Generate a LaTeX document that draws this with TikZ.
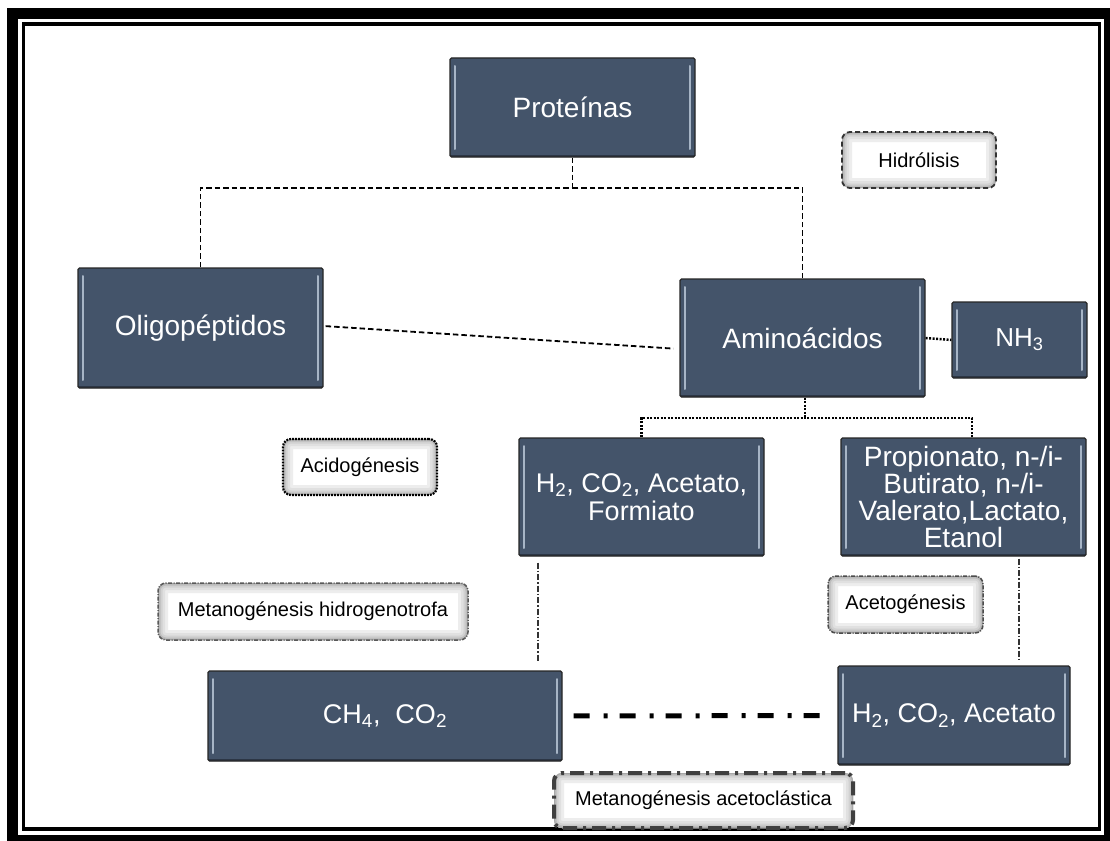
\documentclass[tikz,border=0pt]{standalone}
\usepackage{fontspec}
\setmainfont{Liberation Sans}
\definecolor{boxc}{HTML}{44546A}
\definecolor{stripec}{HTML}{A7B5C6}
\begin{document}
\begin{tikzpicture}[x=1pt,y=-1pt,
  dbox/.style={draw=black!85, line width=1.2pt, fill=boxc, text=white, align=center, inner sep=0pt,
    rounded corners=1.5pt, font=\fontsize{28}{32}\selectfont,
    path picture={
      \draw[solid, stripec, line width=2pt, line cap=round] ([xshift=5pt,yshift=-8pt]path picture bounding box.north west) -- ([xshift=5pt,yshift=8pt]path picture bounding box.south west);
      \draw[solid, stripec, line width=2pt, line cap=round] ([xshift=-5pt,yshift=-8pt]path picture bounding box.north east) -- ([xshift=-5pt,yshift=8pt]path picture bounding box.south east);
      \draw[solid, black, opacity=0.35, line width=5pt] (path picture bounding box.south west) -- (path picture bounding box.south east);
    }},
  lbox/.style={rounded corners=8pt, fill=white, text=black, font=\fontsize{20}{24}\selectfont, inner sep=0pt,
    path picture={
      \foreach \w/\c in {20/7,14/12,9/18,5/26,2/34}{
        \draw[solid, line width=\w pt, black!\c, rounded corners=8pt] (path picture bounding box.south west) rectangle (path picture bounding box.north east);
      }
    }},
  dashc/.style={draw=black, line width=1.8pt, dash pattern=on 5.5pt off 3pt},
  dotc/.style={draw=black, line width=2.5pt, dash pattern=on 2pt off 1.5pt},
  ddc/.style={draw=black!80, line width=1.5pt, dash pattern=on 6pt off 2pt on 1.5pt off 2pt},
  thickdd/.style={draw=black, line width=5pt, dash pattern=on 16pt off 14pt on 4pt off 12pt},
]
\useasboundingbox (0,0) rectangle (1110,840);
\fill[white] (0,0) rectangle (1110,840);
% frame
\draw[line width=11pt] (12.5,13.5) rectangle (1109.5,840.5);
\draw[line width=3.5pt] (23.5,24) rectangle (1099.5,829);

% main boxes
\node[dbox, minimum width=245pt, minimum height=99pt] (prot) at (572.5,107.5) {Proteínas};
\node[dbox, minimum width=245pt, minimum height=120pt] (oligo) at (200.5,328) {Oligopéptidos};
\node[dbox, minimum width=245pt, minimum height=118pt] (amino) at (802.5,338) {Aminoácidos};
\node[dbox, minimum width=135pt, minimum height=76pt, font=\fontsize{26}{30}\selectfont] (nh3) at (1019.5,340) {NH\textsubscript{3}};
\node[dbox, minimum width=245pt, minimum height=118pt, font=\fontsize{27}{28}\selectfont] (hco) at (641.5,497) {H\textsubscript{2}, CO\textsubscript{2}, Acetato,\\Formiato};
\node[dbox, minimum width=245pt, minimum height=118pt, font=\fontsize{28}{27}\selectfont] (prop) at (963.5,497) {Propionato, n-/i-\\Butirato, n-/i-\\Valerato,Lactato,\\Etanol};
\node[dbox, minimum width=354pt, minimum height=90pt, font=\fontsize{27}{30}\selectfont] (ch4) at (385,716) {CH\textsubscript{4},\ \ CO\textsubscript{2}};
\node[dbox, minimum width=232pt, minimum height=99pt, font=\fontsize{27}{30}\selectfont] (hca) at (954,715.5) {H\textsubscript{2}, CO\textsubscript{2}, Acetato};

% labels
\node[lbox, minimum width=154pt, minimum height=56pt, draw=black!80, line width=1.8pt, dash pattern=on 5pt off 3pt] (hid) at (919,160) {Hidrólisis};
\node[lbox, minimum width=154pt, minimum height=56pt, draw=black, line width=2.2pt, dash pattern=on 1.8pt off 1.2pt] (acid) at (360,467) {Acidogénesis};
\node[lbox, minimum width=310pt, minimum height=57pt, draw=black!65, line width=1.5pt, dash pattern=on 4pt off 1.5pt on 1pt off 1.5pt] (mhid) at (313,611.5) {Metanogénesis hidrogenotrofa};
\node[lbox, minimum width=155pt, minimum height=57pt, draw=black!70, line width=1.5pt, dash pattern=on 4pt off 1.5pt on 1pt off 1.5pt] (acet) at (905.5,604.5) {Acetogénesis};
\node[lbox, minimum width=299pt, minimum height=55pt, draw=black!75, line width=4pt, dash pattern=on 14pt off 6pt on 3pt off 6pt] (mace) at (703.5,800.5) {Metanogénesis acetoclástica};

% connectors
\coordinate (pj) at (572.5,188);
\draw[dashc] (prot.south) -- (pj);
\draw[dashc] (oligo.north) |- (pj);
\draw[dashc] (amino.north) |- (pj);
\draw[dashc, shorten <=2pt, shorten >=6pt] ([yshift=2pt]oligo.east) -- ([yshift=-11pt]amino.west);
\draw[dotc] (amino.east) -- (nh3.west);
\coordinate (aj) at (805,418);
\draw[dotc] (amino.south -| aj) -- (aj);
\draw[dotc] (hco.north) |- (aj);
\draw[dotc] (prop.north -| 972,0) |- (aj);
\draw[ddc, shorten <=6pt, shorten >=8pt] (hco.south -| 538,0) -- (ch4.north -| 538,0);
\draw[ddc, shorten <=2pt, shorten >=6pt] (prop.south -| 1019,0) -- (hca.north -| 1019,0);
\draw[thickdd, shorten <=11pt, shorten >=10pt] (ch4.east) -- (hca.west);
\end{tikzpicture}
\end{document}
